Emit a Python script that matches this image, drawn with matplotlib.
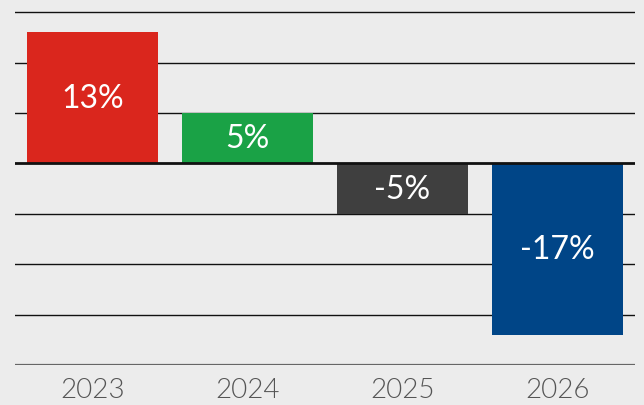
import matplotlib
matplotlib.use("Agg")
import matplotlib.pyplot as plt

# variacion anual
anios = ["2023", "2024", "2025", "2026"]
valores = [13, 5, -5, -17]
colores = ["#da261d", "#1aa246", "#3f3f3f", "#004587"]

plt.rcParams['font.family'] = ['Lato', 'DejaVu Sans']

fig = plt.figure(figsize=(6.44, 4.06), dpi=100, facecolor="#ececec")
ax = fig.add_axes([15 / 644, 40 / 406, 620 / 644, 366 / 406])
ax.set_facecolor("#ececec")

x = range(len(anios))
barras = ax.bar(x, valores, width=0.84, color=colores, zorder=3)

# lineas horizontales
for y in range(-20, 16, 5):
    if y == 0:
        ax.axhline(y, color="#111111", lw=2.0, zorder=4)
    elif y == -20:
        ax.axhline(y, color="#666666", lw=1.6, zorder=2)
    else:
        ax.axhline(y, color="#111111", lw=1.0, zorder=2)

for b, v in zip(barras, valores):
    ax.text(b.get_x() + b.get_width() / 2, v / 2, f"{v}%",
            ha="center", va="center", color="white", fontsize=23,
            fontweight="normal", zorder=5)

ax.set_xlim(-0.5, 3.5)
ax.set_ylim(-20, 16.3)
ax.set_xticks(list(x))
ax.set_xticklabels(anios, fontweight=300)
ax.tick_params(axis="x", length=0, pad=9, labelsize=20, labelcolor="#555555")
ax.set_yticks([])
for s in ax.spines.values():
    s.set_visible(False)

fig.savefig("out.png", dpi=100, facecolor=fig.get_facecolor())
